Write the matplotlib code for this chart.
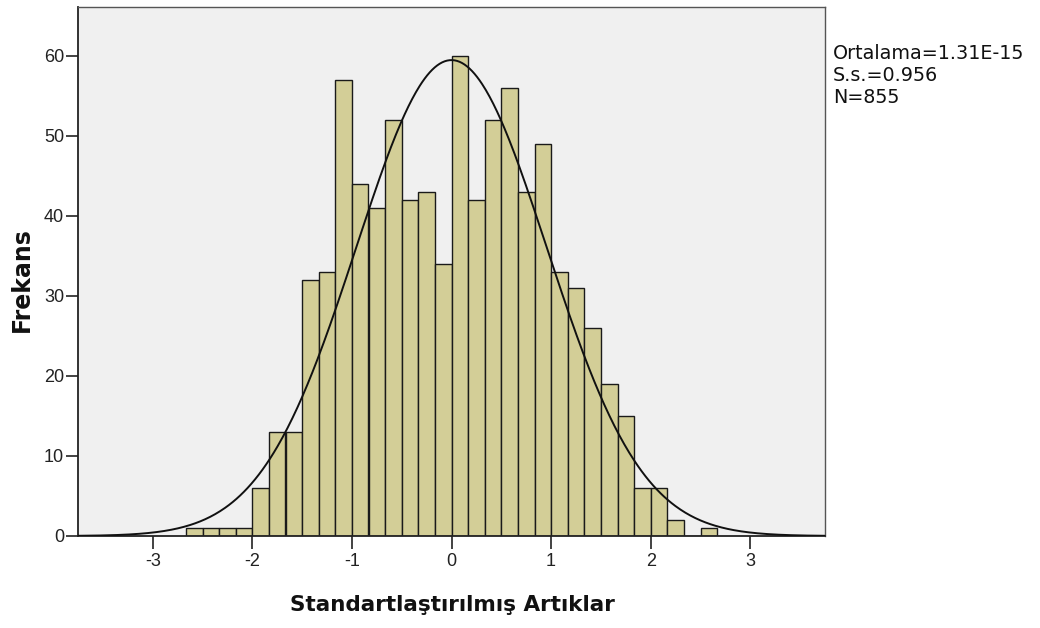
import numpy as np
import matplotlib
matplotlib.use("Agg")
import matplotlib.pyplot as plt

# Data: histogram of standardized residuals (bin width 1/6)
bin_start = -16 / 6
bin_width = 1 / 6
counts = [1, 1, 1, 1, 6, 13, 13, 32, 33, 57, 44, 41, 52, 42, 43, 34,
          60, 42, 52, 56, 43, 49, 33, 31, 26, 19, 15, 6, 6, 2, 0, 1]
mean_val = 1.31e-15
sd_val = 0.956
n_val = 855
x_ticks = [-3, -2, -1, 0, 1, 2, 3]
y_ticks = [0, 10, 20, 30, 40, 50, 60]
stats_lines = ["Ortalama=1.31E-15", "S.s.=0.956", "N=855"]
x_label = "Standartlaştırılmış Artıklar"
y_label = "Frekans"

plt.rcParams['font.family'] = ['Liberation Sans', 'DejaVu Sans']

W, H = 1040, 628
fig = plt.figure(figsize=(W / 100, H / 100), dpi=100)
fig.patch.set_facecolor('white')
ax = fig.add_axes([78 / W, 1 - 536 / H, (825 - 78) / W, (536 - 7) / H])
ax.set_facecolor('#F0F0F0')

edges = bin_start + bin_width * np.arange(len(counts))
ax.bar(edges, counts, width=bin_width, align='edge', color='#D3CE97',
       edgecolor='#1a1a1a', linewidth=1.0, zorder=2)

xs = np.linspace(-3.75, 3.75, 600)
ys = n_val * bin_width / (sd_val * np.sqrt(2 * np.pi)) * np.exp(-0.5 * ((xs - mean_val) / sd_val) ** 2)
ax.plot(xs, ys, color='#111111', linewidth=1.4, zorder=3)

ax.set_xlim(-3.75, 3.75)
ax.set_ylim(0, 66.1)
ax.set_xticks(x_ticks)
ax.set_xticklabels([str(t) for t in x_ticks])
ax.set_yticks(y_ticks)
ax.set_yticklabels([str(t) for t in y_ticks])
ax.tick_params(axis='both', direction='out', length=9, width=1.2,
               labelsize=13, colors='#222222')
ax.tick_params(axis='y', pad=1)
ax.tick_params(axis='x', pad=3)

for s in ['left', 'bottom']:
    ax.spines[s].set_color('#222222')
    ax.spines[s].set_linewidth(1.3)
for s in ['top', 'right']:
    ax.spines[s].set_color('#555555')
    ax.spines[s].set_linewidth(1.0)

fig.text(452.5 / W, 1 - 605 / H, x_label, fontsize=15.5, fontweight='bold',
         family='DejaVu Sans', ha='center', va='center', color='#111111')
fig.text(22 / W, 1 - 280 / H, y_label, fontsize=17, fontweight='bold',
         family='DejaVu Sans', ha='center', va='center', rotation=90, color='#111111')

fig.text(833 / W, 1 - 44 / H, "\n".join(stats_lines), fontsize=13.8,
         family='DejaVu Sans', va='top', ha='left', color='#111111', linespacing=1.2)

fig.savefig('out.png', dpi=100)
